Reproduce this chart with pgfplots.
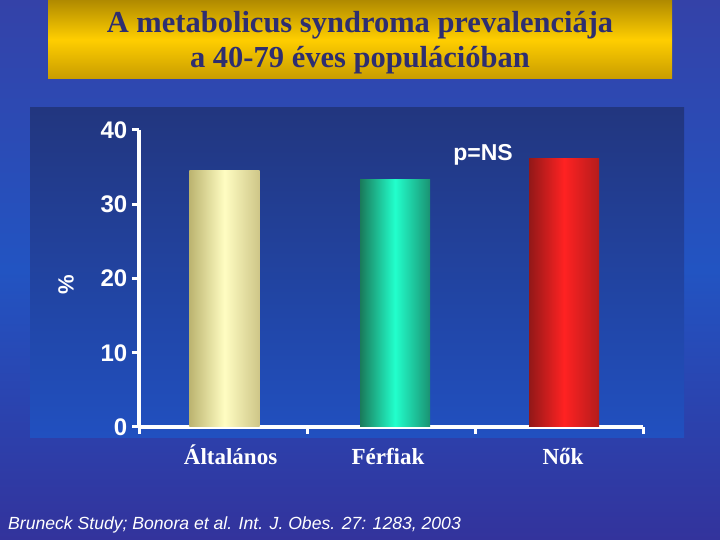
\documentclass[border=0pt]{standalone}
\usepackage{fontspec}
\setmainfont{Liberation Serif}
\setsansfont{Liberation Sans}
\usepackage{pgfplots}
\pgfplotsset{compat=1.18}
\definecolor{bgtop}{HTML}{3442A8}
\definecolor{bgmid}{HTML}{2254C2}
\definecolor{bgbot}{HTML}{33339C}
\definecolor{pantop}{HTML}{22367F}
\definecolor{panbot}{HTML}{2150C0}
\definecolor{gold1}{HTML}{B08A00}
\definecolor{gold2}{HTML}{FFCE00}
\definecolor{gold3}{HTML}{C89C00}
\definecolor{titlecol}{HTML}{2E2E70}
\definecolor{yA}{HTML}{BCB470}
\definecolor{yB}{HTML}{FFFDC2}
\definecolor{yC}{HTML}{CEC688}
\definecolor{gA}{HTML}{1A7A5A}
\definecolor{gB}{HTML}{22FFCC}
\definecolor{gC}{HTML}{1A9272}
\definecolor{rA}{HTML}{921818}
\definecolor{rB}{HTML}{FF2222}
\definecolor{rC}{HTML}{B41C1C}
\begin{document}
\begin{tikzpicture}[x=1pt,y=1pt]
\useasboundingbox (0,0) rectangle (720,540);
\shade[top color=bgtop, bottom color=bgbot, middle color=bgmid] (0,0) rectangle (720,540);
\shade[top color=pantop, bottom color=panbot] (30,102) rectangle (684,432);
\shade[top color=gold1, bottom color=gold3, middle color=gold2] (48,461) rectangle (672,540);
\node[anchor=base, text=titlecol, font=\bfseries\fontsize{30.5}{30.5}\selectfont, inner sep=0pt] at (360,507) {A metabolicus syndroma prevalenciája};
\node[anchor=base, text=titlecol, font=\bfseries\fontsize{30.5}{30.5}\selectfont, inner sep=0pt] at (360,472) {a 40-79 éves populációban};
\begin{axis}[
  at={(139pt,113pt)}, anchor=south west,
  scale only axis, width=504pt, height=297pt,
  xmin=0, xmax=3, ymin=0, ymax=40,
  clip=false,
  axis lines=left,
  axis line style={-, white, line width=4pt},
  ytick={0,10,20,30,40},
  xtick={0,1,2,3}, xticklabels={},
  tick align=outside, major tick length=7pt,
  tick style={white, line width=3pt},
  /pgf/number format/assume math mode=true,
  yticklabel style={font=\sffamily\bfseries\fontsize{24}{24}\selectfont, text=white, inner xsep=4.5pt},
]
\addplot[ybar, bar width=0.417, bar shift=0pt, draw=none, left color=yA, right color=yC, middle color=yB] coordinates {(0.509,34.6)};
\addplot[ybar, bar width=0.417, bar shift=0pt, draw=none, left color=gA, right color=gC, middle color=gB] coordinates {(1.524,33.3)};
\addplot[ybar, bar width=0.417, bar shift=0pt, draw=none, left color=rA, right color=rC, middle color=rB] coordinates {(2.53,36.2)};
\node[anchor=base, text=white, font=\bfseries\fontsize{23}{23}\selectfont] at (axis cs:0.545,0) [yshift=-38pt] {Általános};
\node[anchor=base, text=white, font=\bfseries\fontsize{23}{23}\selectfont] at (axis cs:1.482,0) [yshift=-38pt] {Férfiak};
\node[anchor=base, text=white, font=\bfseries\fontsize{23}{23}\selectfont] at (axis cs:2.524,0) [yshift=-38pt] {Nők};
\end{axis}
\node[text=white, font=\sffamily\bfseries\fontsize{22}{22}\selectfont, rotate=90] at (66,255) {\%};
\node[text=white, font=\sffamily\bfseries\fontsize{23}{23}\selectfont] at (483,385) {p=NS};
\node[anchor=base west, text=white, font=\sffamily\itshape\fontsize{17.6}{17.6}\selectfont, inner sep=0pt] at (8,10) {Bruneck Study; Bonora et al. Int. J. Obes. 27: 1283, 2003};
\end{tikzpicture}
\end{document}
